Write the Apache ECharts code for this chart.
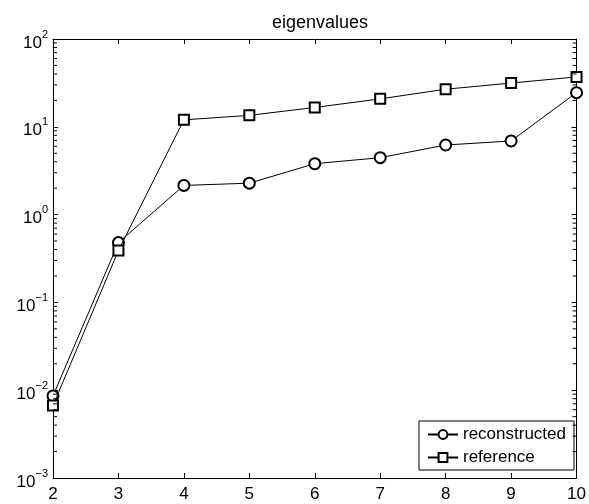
<!DOCTYPE html>
<html>
<head>
<meta charset="utf-8">
<script src="https://cdn.jsdelivr.net/npm/echarts@6.0.0/dist/echarts.min.js"></script>
<style>
  html, body { margin: 0; padding: 0; background: #fff; }
  #chart { width: 589px; height: 504px; }
</style>
</head>
<body>
<div id="chart"></div>
<script>
// values
const xValues = [2, 3, 4, 5, 6, 7, 8, 9, 10];
const reconstructed = [0.0086, 0.48, 2.15, 2.28, 3.8, 4.45, 6.2, 6.9, 24.5];
const reference = [0.0067, 0.39, 12.0, 13.5, 16.6, 20.8, 26.8, 31.5, 37.0];
const xTicks = [2, 3, 4, 5, 6, 7, 8, 9, 10];
const yDecades = [0.001, 0.01, 0.1, 1, 10, 100];

// minor ticks for the log axis (2..9 in each decade)
const minorTicks = [];
for (let d = 0; d < yDecades.length - 1; d++) {
    for (let m = 2; m <= 9; m++) {
        minorTicks.push(yDecades[d] * m);
    }
}

const font = "Liberation Sans, Arial, Helvetica, sans-serif";

const chart = echarts.init(document.getElementById("chart"), null, { renderer: "canvas" });

function pairs(ys) {
    return xValues.map((x, i) => [x, ys[i]]);
}

function powLabel(v) {
    const e = Math.round(Math.log10(v));
    const s = e < 0 ? "\u2212" + (-e) : String(e);
    return "{b|10}{s|" + s + "}";
}

// small inward marks on the left and right edges at the minor tick values
function minorTickMarks() {
    const left = minorTicks.map((v) => ({ coord: [2, v], symbolOffset: [2, 0] }));
    const right = minorTicks.map((v) => ({ coord: [10, v], symbolOffset: [-2, 0] }));
    return {
        silent: true,
        symbol: "rect",
        symbolSize: [4, 1],
        label: { show: false },
        itemStyle: { color: "#000" },
        emphasis: { disabled: true },
        data: left.concat(right),
    };
}

function tickStyle() {
    return { show: true, inside: true, length: 5, lineStyle: { color: "#000", width: 1 } };
}
function lineAxis() {
    return { show: true, onZero: false, lineStyle: { color: "#000", width: 1 } };
}

chart.setOption({
    animation: false,
    backgroundColor: "#fff",
    textStyle: { fontFamily: font, color: "#000" },
    title: {
        text: "eigenvalues",
        left: 315,
        top: 9,
        textAlign: "center",
        textStyle: { fontFamily: font, fontSize: 18, fontWeight: "normal", color: "#000" },
    },
    grid: {
        left: 53,
        right: 12,
        top: 39,
        bottom: 26,
    },
    legend: {
        data: ["reconstructed", "reference"],
        orient: "vertical",
        right: 15,
        bottom: 34,
        itemWidth: 30,
        itemHeight: 11,
        itemGap: 6,
        padding: [5, 8, 4, 8],
        borderColor: "#000",
        borderWidth: 1,
        backgroundColor: "#fff",
        textStyle: { fontFamily: font, fontSize: 17, color: "#000" },
    },
    xAxis: [
        {
            type: "value",
            min: 2,
            max: 10,
            interval: 1,
            position: "bottom",
            axisLine: lineAxis(),
            axisTick: tickStyle(),
            splitLine: { show: false },
            axisLabel: {
                color: "#000",
                fontSize: 17,
                fontFamily: font,
                margin: 8,
                formatter: (v) => (xTicks.includes(v) ? String(v) : ""),
            },
        },
        {
            type: "value",
            min: 2,
            max: 10,
            interval: 1,
            position: "top",
            axisLine: lineAxis(),
            axisTick: tickStyle(),
            splitLine: { show: false },
            axisLabel: { show: false },
        },
    ],
    yAxis: [
        {
            type: "log",
            min: 0.001,
            max: 100,
            position: "left",
            axisLine: lineAxis(),
            axisTick: tickStyle(),
            splitLine: { show: false },
            axisLabel: {
                color: "#000",
                margin: 5,
                formatter: powLabel,
                rich: {
                    b: { fontSize: 17, fontFamily: font, color: "#000", padding: [8, 0, 0, 0] },
                    s: { fontSize: 11, fontFamily: font, color: "#000", padding: [0, 0, 9, 0] },
                },
            },
        },
        {
            type: "log",
            min: 0.001,
            max: 100,
            position: "right",
            axisLine: lineAxis(),
            axisTick: tickStyle(),
            splitLine: { show: false },
            axisLabel: { show: false },
        },
    ],
    series: [
        {
            name: "reconstructed",
            type: "line",
            data: pairs(reconstructed),
            symbol: "emptyCircle",
            symbolSize: 11,
            itemStyle: { color: "#000", borderWidth: 1 },
            lineStyle: { color: "#000", width: 1 },
            z: 3,
        },
        {
            name: "reference",
            type: "line",
            data: pairs(reference),
            symbol: "emptyRect",
            symbolSize: 10,
            itemStyle: { color: "#000", borderWidth: 1 },
            lineStyle: { color: "#000", width: 1 },
            markPoint: minorTickMarks(),
            z: 4,
        },
    ],
});
</script>
</body>
</html>
